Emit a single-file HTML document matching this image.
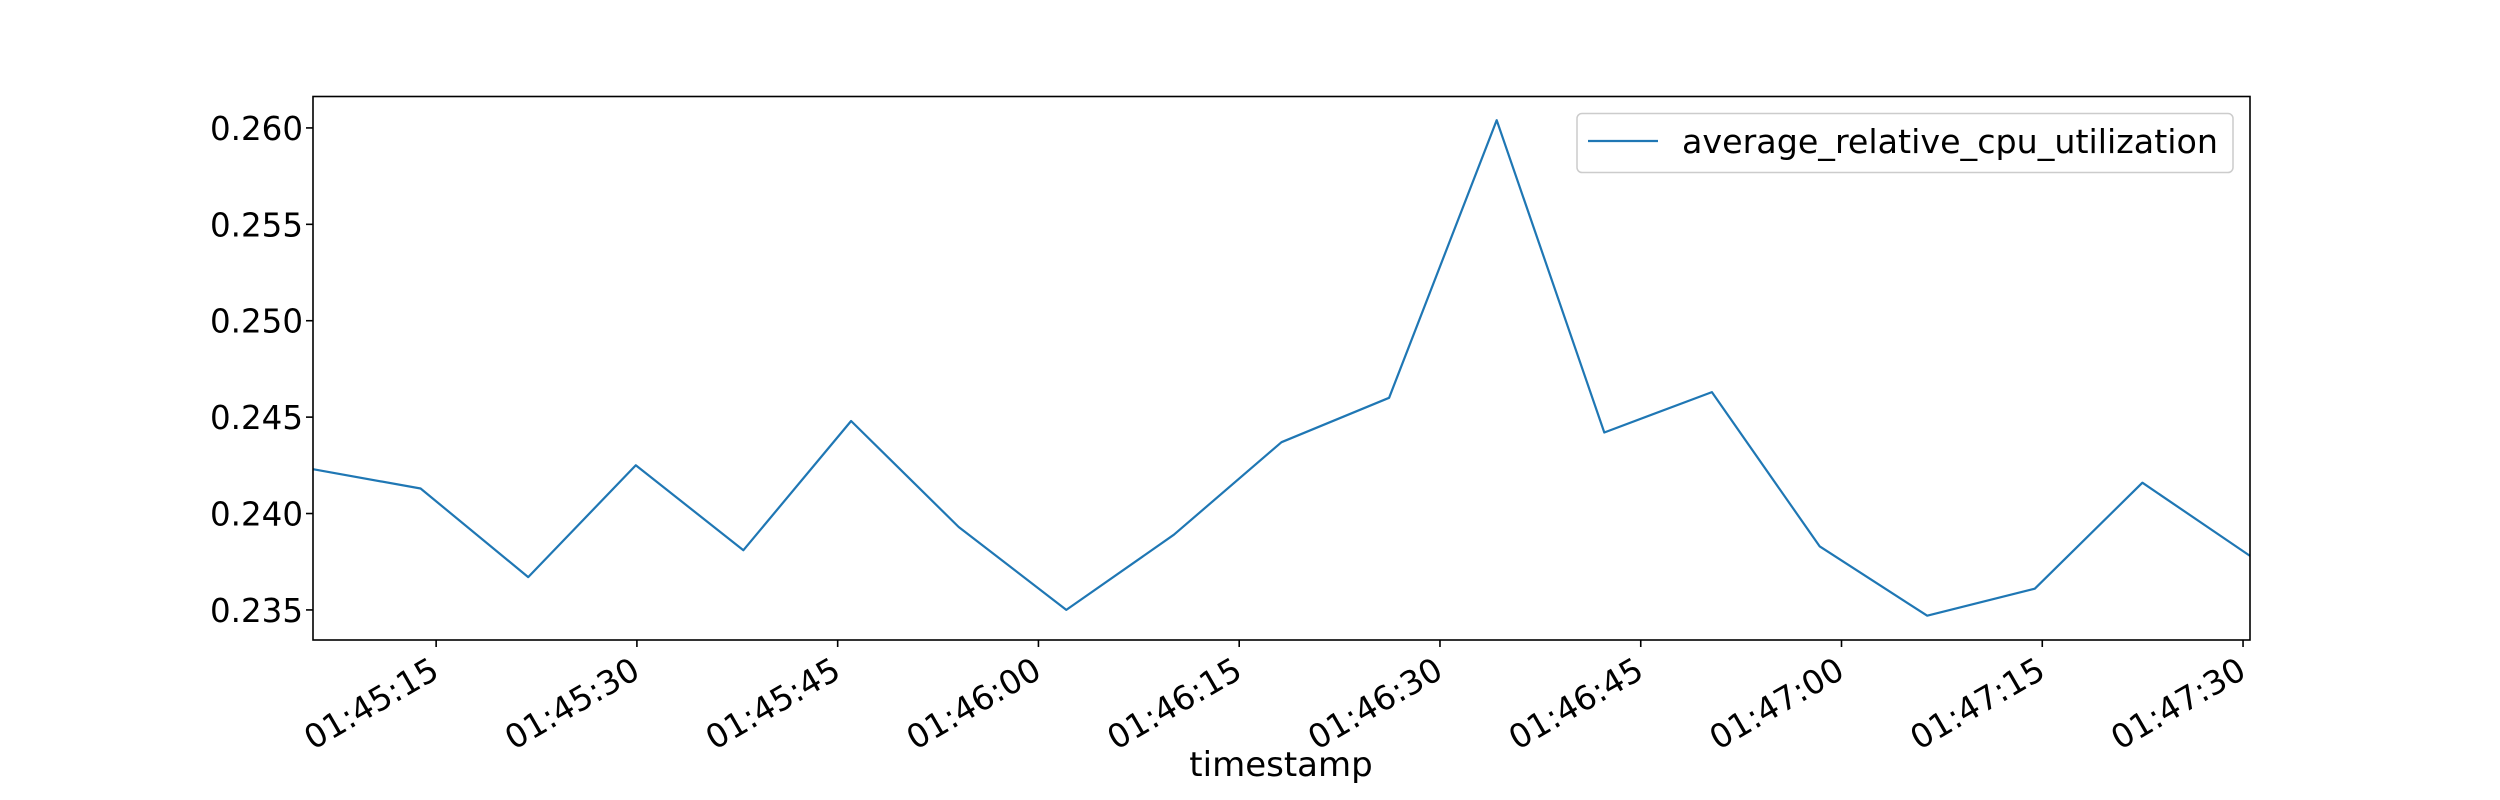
<!DOCTYPE html>
<html><head><meta charset="utf-8"><style>
html,body{margin:0;padding:0;background:#fff;}
svg{display:block;font-family:"DejaVu Sans","Liberation Sans",sans-serif;}
</style></head><body>
<svg id="chart" width="2500" height="800" xmlns="http://www.w3.org/2000/svg">
<rect width="2500" height="800" fill="#fff"/>
<g id="yticks"></g>
<g id="xticks"></g>
<polyline id="series" fill="none" stroke="#1f77b4" stroke-width="2.2" stroke-linejoin="round"/>
<rect x="313" y="96.5" width="1937" height="543.5" fill="none" stroke="#000" stroke-width="1.6"/>
<text x="1281" y="776" font-size="34" text-anchor="middle">timestamp</text>
<g>
<rect x="1577" y="113.5" width="656" height="59" rx="5" fill="#fff" stroke="#ccc" stroke-width="1.5"/>
<line x1="1588" y1="141" x2="1658" y2="141" stroke="#1f77b4" stroke-width="2.2"/>
<text x="1682" y="153" font-size="33.3">average_relative_cpu_utilization</text>
</g>
</svg>
<script>
// seconds after 01:45:00
const times = [5.8,13.84,21.88,29.92,37.96,46.0,54.04,62.08,70.12,78.16,86.2,94.24,102.28,110.32,118.36,126.4,134.44,142.48,150.52];
const values = [0.2423,0.2413,0.2367,0.2425,0.2381,0.2448,0.2393,0.2350,0.2389,0.2437,0.2460,0.2604,0.2442,0.2463,0.2383,0.2347,0.2361,0.2416,0.2378];
const yTicks = [0.235,0.240,0.245,0.250,0.255,0.260];
const yTickLabels = ["0.235","0.240","0.245","0.250","0.255","0.260"];
const xTicks = [15,30,45,60,75,90,105,120,135,150];
const xTickLabels = ["01:45:15","01:45:30","01:45:45","01:46:00","01:46:15","01:46:30","01:46:45","01:47:00","01:47:15","01:47:30"];

const NS = "http://www.w3.org/2000/svg";
const X0 = 313, X1 = 2250, Y0 = 640, Y1 = 96.5;
const tMin = times[0], tMax = times[times.length-1];
const vMin = 0.23344, vMax = 0.26163;
function xs(t){ return X0 + (t - tMin) / (tMax - tMin) * (X1 - X0); }
function ys(v){ return Y0 - (v - vMin) / (vMax - vMin) * (Y0 - Y1); }

document.getElementById('series').setAttribute('points', times.map((t,i)=>xs(t).toFixed(1)+','+ys(values[i]).toFixed(1)).join(' '));

const yg = document.getElementById('yticks');
yTicks.forEach((v,i)=>{
  const y = ys(v);
  const l = document.createElementNS(NS,'line');
  
  
  l.setAttribute('x1', X0-7); l.setAttribute('x2', X0); l.setAttribute('y1', y); l.setAttribute('y2', y);
  l.setAttribute('stroke', '#000'); l.setAttribute('stroke-width', '1.6');
  yg.appendChild(l);
  const t = document.createElementNS(NS,'text');
  
  
  t.setAttribute('x', X0-10); t.setAttribute('y', y+12);
  t.setAttribute('font-size', '32.5'); t.setAttribute('text-anchor', 'end');
  t.textContent = yTickLabels[i];
  yg.appendChild(t);
});

const xg = document.getElementById('xticks');
xTicks.forEach((s,i)=>{
  const x = xs(s);
  const l = document.createElementNS(NS,'line');
  
  
  l.setAttribute('x1', x); l.setAttribute('x2', x); l.setAttribute('y1', Y0); l.setAttribute('y2', Y0+7);
  l.setAttribute('stroke', '#000'); l.setAttribute('stroke-width', '1.6');
  xg.appendChild(l);
  const t = document.createElementNS(NS,'text');
  
  
  const ax = x - 1, ay = Y0 + 38;
  t.setAttribute('x', ax); t.setAttribute('y', ay);
  t.setAttribute('font-size', '33'); t.setAttribute('text-anchor', 'end');
  t.setAttribute('transform', 'rotate(-30 ' + ax + ' ' + (ay-12) + ')');
  t.textContent = xTickLabels[i];
  xg.appendChild(t);
});
</script>
</body></html>
